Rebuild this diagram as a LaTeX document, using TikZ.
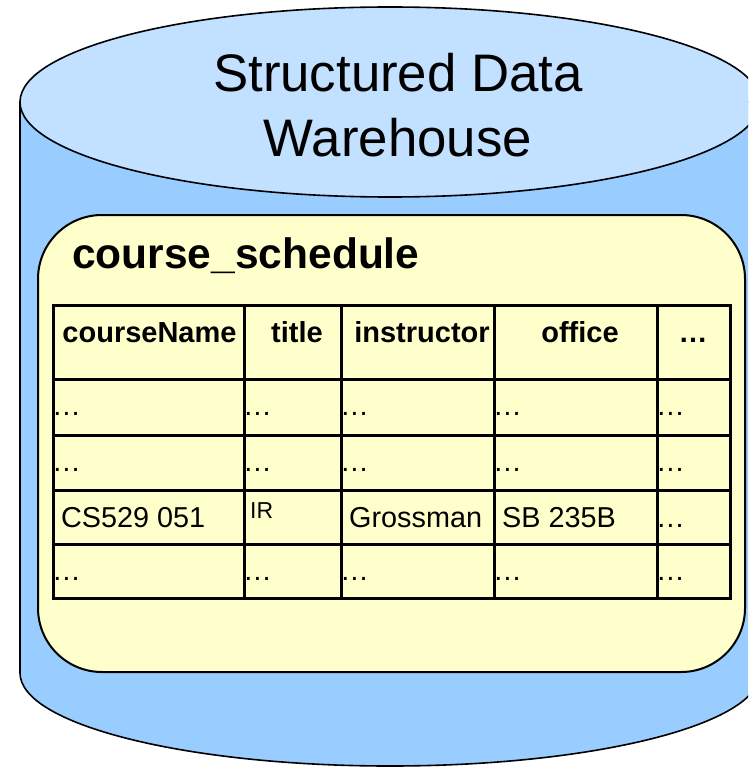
\documentclass[tikz,border=0pt]{standalone}
\usepackage{fontspec}
\setmainfont{Liberation Sans}
\definecolor{cylblue}{HTML}{99CCFF}
\definecolor{lidblue}{HTML}{C2E0FF}
\definecolor{paneyellow}{HTML}{FFFFCC}
\tikzset{
  outline/.style={draw=black, line width=1.6pt},
  hdr/.style={font=\fontsize{29}{34}\selectfont\bfseries, inner sep=0pt, anchor=base},
  cell/.style={font=\fontsize{28.8}{34}\selectfont, inner sep=0pt, anchor=base west},
  gridline/.style={line width=3pt, line cap=rect}
}
\begin{document}
\begin{tikzpicture}[x=1pt,y=-1pt]
\useasboundingbox (0,0) rectangle (748,767);
\clip (0,0) rectangle (748,767);

% cylinder body
\path[outline, fill=cylblue] (20,102) -- (20,673)
  arc[start angle=180, end angle=360, x radius=370pt, y radius=93pt]
  -- (760,102) -- cycle;
% lid
\draw[outline, fill=lidblue] (390,102) ellipse [x radius=370pt, y radius=95pt];

\node[font=\fontsize{52.8}{64}\selectfont, inner sep=0pt, anchor=base] (title1) at (398,92) {Structured Data};
\node[font=\fontsize{52.8}{64}\selectfont, inner sep=0pt, anchor=base] (title2) at (398,157) {Warehouse};

% table panel
\draw[line width=2pt, fill=paneyellow, rounded corners=64pt] (38,215) rectangle (745,672);
\node[font=\fontsize{42.5}{50}\selectfont\bfseries, inner sep=0pt, anchor=base west] (tname) at (72,268) {course\_schedule};

% grid
\draw[gridline] (53,305) rectangle (730,598);
\foreach \yy in {379,435,490,544} \draw[gridline] (53,\yy) -- (730,\yy);
\foreach \xx in {244,341,494,657} \draw[gridline] (\xx,305) -- (\xx,598);

% header row
\node[hdr] (h1) at (149.5,342) {courseName};
\node[hdr] (h2) at (297,342) {title};
\node[hdr] (h3) at (422,342) {instructor};
\node[hdr] (h4) at (580,342) {office};
\node[hdr] (h5) at (693,342) {…};

% placeholder rows
\foreach \yy/\r in {415/a,471/b,580/d}
  \foreach \xx/\c in {52/1,243/2,340/3,493/4,656/5}
    \node[cell] (d\r\c) at (\xx,\yy) {…};

% sample record
\node[cell] (c1) at (61,527) {CS529 051};
\node[cell, font=\fontsize{23}{27}\selectfont] (c2) at (250,518) {IR};
\node[cell] (c3) at (349,527) {Grossman};
\node[cell] (c4) at (502,527) {SB 235B};
\node[cell] (c5) at (656,527) {…};
\end{tikzpicture}
\end{document}
